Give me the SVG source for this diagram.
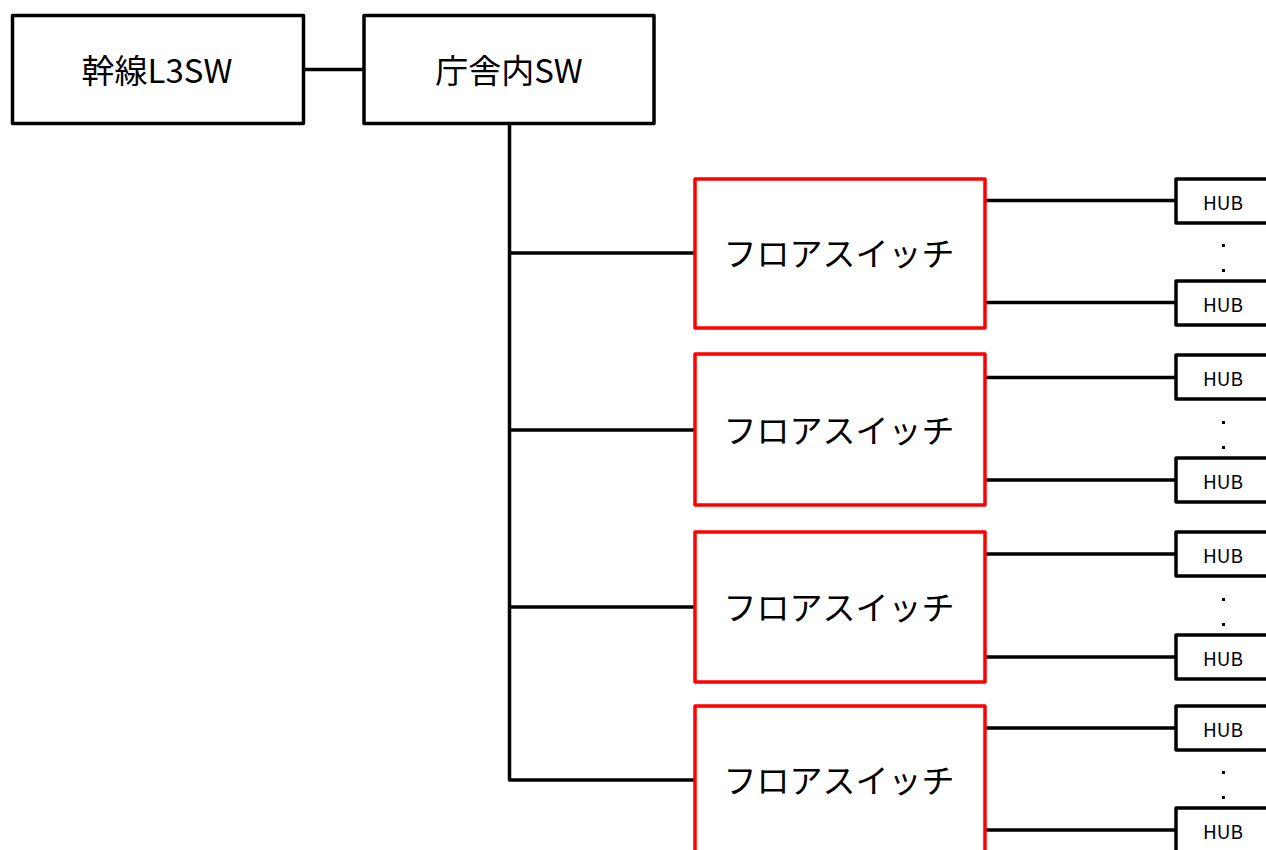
<svg xmlns="http://www.w3.org/2000/svg" width="1266" height="850" viewBox="0 0 1266 850">
<defs>
<style>
.box{fill:#fff;stroke:#000;stroke-width:3.5;stroke-linejoin:round}
.fsw{fill:#fff;stroke:#ff0000;stroke-width:3.5;stroke-linejoin:round}
.hub{fill:#fff;stroke:#000;stroke-width:3.5;stroke-linejoin:round}
.ln{fill:none;stroke:#000;stroke-width:3.5;stroke-linejoin:round}
.t{font-family:"Noto Sans CJK JP","Noto Sans",sans-serif;fill:#000;text-anchor:middle;dominant-baseline:central}
.big{font-size:33px}
.small{font-size:19px}
.dot{fill:#000}
</style>
</defs>
<rect width="1266" height="850" fill="#fff"/>
<g id="connectors">
<line class="ln" x1="303" y1="69.5" x2="364" y2="69.5"/>
<polyline class="ln" points="509.5,124 509.5,780 695,780"/>
<line class="ln" x1="509.5" y1="253" x2="695" y2="253"/>
<line class="ln" x1="509.5" y1="430" x2="695" y2="430"/>
<line class="ln" x1="509.5" y1="607" x2="695" y2="607"/>
<line class="ln" x1="985" y1="200.5" x2="1176" y2="200.5"/>
<line class="ln" x1="985" y1="302.5" x2="1176" y2="302.5"/>
<line class="ln" x1="985" y1="377.5" x2="1176" y2="377.5"/>
<line class="ln" x1="985" y1="480" x2="1176" y2="480"/>
<line class="ln" x1="985" y1="554" x2="1176" y2="554"/>
<line class="ln" x1="985" y1="657" x2="1176" y2="657"/>
<line class="ln" x1="985" y1="728" x2="1176" y2="728"/>
<line class="ln" x1="985" y1="830" x2="1176" y2="830"/>
</g>
<g id="trunk-l3sw"><rect class="box" x="12.5" y="15.5" width="291" height="108"/><text class="t big" x="157" y="69">幹線L3SW</text></g>
<g id="chousha-sw"><rect class="box" x="364" y="15.5" width="290" height="108"/><text class="t big" x="509" y="69">庁舎内SW</text></g>
<g id="floor-sw-1"><rect class="fsw" x="695" y="179" width="290" height="149"/><text class="t big" x="839" y="252">フロアスイッチ</text></g>
<g id="floor-sw-2"><rect class="fsw" x="695" y="354" width="290" height="151"/><text class="t big" x="839" y="429">フロアスイッチ</text></g>
<g id="floor-sw-3"><rect class="fsw" x="695" y="532" width="290" height="150"/><text class="t big" x="839" y="606">フロアスイッチ</text></g>
<g id="floor-sw-4"><rect class="fsw" x="695" y="706" width="290" height="160"/><text class="t big" x="839" y="779">フロアスイッチ</text></g>
<g id="hub-1a"><rect class="hub" x="1176" y="179" width="100" height="44"/><text class="t small" x="1223" y="201">HUB</text></g>
<g id="hub-1b"><rect class="hub" x="1176" y="281" width="100" height="44"/><text class="t small" x="1223" y="303">HUB</text></g>
<g id="hub-2a"><rect class="hub" x="1176" y="355" width="100" height="44"/><text class="t small" x="1223" y="377">HUB</text></g>
<g id="hub-2b"><rect class="hub" x="1176" y="458" width="100" height="44"/><text class="t small" x="1223" y="480">HUB</text></g>
<g id="hub-3a"><rect class="hub" x="1176" y="532" width="100" height="44"/><text class="t small" x="1223" y="554">HUB</text></g>
<g id="hub-3b"><rect class="hub" x="1176" y="635" width="100" height="44"/><text class="t small" x="1223" y="657">HUB</text></g>
<g id="hub-4a"><rect class="hub" x="1176" y="706" width="100" height="44"/><text class="t small" x="1223" y="728">HUB</text></g>
<g id="hub-4b"><rect class="hub" x="1176" y="808" width="100" height="44"/><text class="t small" x="1223" y="830">HUB</text></g>
<g id="dots">
<rect class="dot" x="1222" y="244" width="3" height="3"/><rect class="dot" x="1222" y="269" width="3" height="3"/>
<rect class="dot" x="1222" y="421" width="3" height="3"/><rect class="dot" x="1222" y="446" width="3" height="3"/>
<rect class="dot" x="1222" y="598" width="3" height="3"/><rect class="dot" x="1222" y="623" width="3" height="3"/>
<rect class="dot" x="1222" y="771" width="3" height="3"/><rect class="dot" x="1222" y="796" width="3" height="3"/>
</g>
</svg>
